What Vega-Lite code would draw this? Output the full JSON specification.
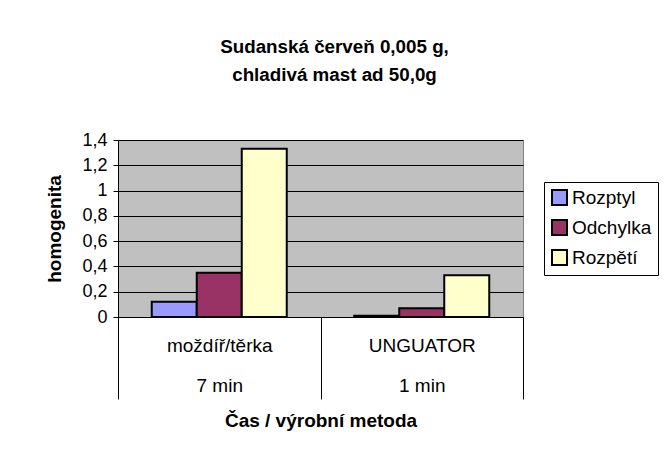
{
  "$schema": "https://vega.github.io/schema/vega-lite/v6.json",
  "width": 405,
  "height": 177,
  "autosize": {"type": "none"},
  "padding": {"left": 118, "top": 140, "right": 146, "bottom": 147},
  "background": "white",
  "title": {
    "text": ["Sudanská červeň 0,005 g,", "chladivá mast ad 50,0g"],
    "font": "Liberation Sans",
    "fontSize": 18.8,
    "fontWeight": "bold",
    "color": "black",
    "lineHeight": 28,
    "anchor": "middle",
    "frame": "group",
    "dx": 14,
    "offset": 46
  },
  "data": {
    "values": [
      {"skupina": "moždíř/těrka|7 min", "rada": "Rozptyl", "homogenita": 0.12},
      {"skupina": "moždíř/těrka|7 min", "rada": "Odchylka", "homogenita": 0.35},
      {"skupina": "moždíř/těrka|7 min", "rada": "Rozpětí", "homogenita": 1.33},
      {"skupina": "UNGUATOR|1 min", "rada": "Rozptyl", "homogenita": 0.01},
      {"skupina": "UNGUATOR|1 min", "rada": "Odchylka", "homogenita": 0.07},
      {"skupina": "UNGUATOR|1 min", "rada": "Rozpětí", "homogenita": 0.33}
    ]
  },
  "mark": {"type": "bar", "stroke": "black", "strokeWidth": 2},
  "encoding": {
    "x": {
      "field": "skupina",
      "type": "nominal",
      "sort": null,
      "scale": {"paddingInner": 0, "paddingOuter": 0},
      "axis": {
        "title": "Čas / výrobní metoda",
        "titleFont": "Liberation Sans",
        "titleFontSize": 19,
        "titleFontWeight": "bold",
        "titleColor": "black",
        "titlePadding": 12,
        "labelExpr": "isString(datum.value) ? split(datum.value, '|') : ''",
        "labelAngle": 0,
        "labelFont": "Liberation Sans",
        "labelFontSize": 19,
        "labelColor": "black",
        "labelLineHeight": 40,
        "labelPadding": -63,
        "labelBaseline": "top",
        "tickBand": "extent",
        "tickSize": 82,
        "tickColor": "black",
        "domainColor": "black",
        "domainWidth": 1
      }
    },
    "xOffset": {
      "field": "rada",
      "type": "nominal",
      "sort": ["Rozptyl", "Odchylka", "Rozpětí"],
      "scale": {"paddingInner": 0, "paddingOuter": 0.75}
    },
    "y": {
      "field": "homogenita",
      "type": "quantitative",
      "scale": {"domain": [0, 1.4], "nice": false},
      "axis": {
        "title": "homogenita",
        "titleFont": "Liberation Sans",
        "titleFontSize": 19,
        "titleFontWeight": "bold",
        "titleColor": "black",
        "titlePadding": 17,
        "values": [0, 0.2, 0.4, 0.6, 0.8, 1, 1.2, 1.4],
        "labelExpr": "replace(format(datum.value, '.1~f'), '.', ',')",
        "labelFont": "Liberation Sans",
        "labelFontSize": 18,
        "labelColor": "black",
        "labelPadding": 6,
        "tickSize": 5,
        "tickColor": "black",
        "domainColor": "black",
        "grid": true,
        "gridColor": "black",
        "gridWidth": 1
      }
    },
    "color": {
      "field": "rada",
      "type": "nominal",
      "sort": ["Rozptyl", "Odchylka", "Rozpětí"],
      "scale": {"domain": ["Rozptyl", "Odchylka", "Rozpětí"], "range": ["#9999FF", "#993366", "#FFFFCC"]},
      "legend": {
        "title": null,
        "orient": "none",
        "legendX": 426,
        "legendY": 42,
        "symbolType": "square",
        "symbolSize": 225,
        "symbolStrokeColor": "black",
        "symbolStrokeWidth": 2,
        "labelFont": "Liberation Sans",
        "labelFontSize": 19,
        "labelColor": "black",
        "labelOffset": 3,
        "rowPadding": 7,
        "padding": 6,
        "strokeColor": "black",
        "fillColor": "white",
        "cornerRadius": 0
      }
    }
  },
  "config": {
    "view": {"fill": "#C0C0C0", "stroke": "#808080", "strokeWidth": 1}
  }
}
